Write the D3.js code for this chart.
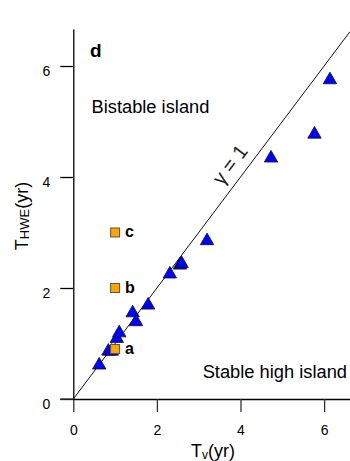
<!DOCTYPE html>
<html>
<head>
<meta charset="utf-8">
<script src="https://cdn.jsdelivr.net/npm/d3@7"></script>
<style>
  body { margin: 0; background: #fff; }
  svg { display: block; }
  text { font-family: "Liberation Sans", Arial, sans-serif; }
</style>
</head>
<body>
<div id="chart"></div>
<script>
// Data: triangles (model runs) and squares (islands a, b, c)
const tvTri   = [0.62, 0.84, 0.92, 1.04, 1.10, 1.42, 1.50, 1.79, 2.31, 2.55, 2.59, 3.20, 4.73, 5.77, 6.14]
const thweTri = [0.61, 0.86, 0.86, 1.09, 1.19, 1.55, 1.39, 1.69, 2.25, 2.41, 2.44, 2.85, 4.34, 4.77, 5.75]
const tvSq    = [1, 1, 1]
const thweSq  = [0.9, 2, 3]
const sqLabels = ['a', 'b', 'c']
const xTicks = [0, 2, 4, 6]
const yTicks = [0, 2, 4, 6]

// Dimensions
let dimensions = {
  width: 350,
  height: 461,
  margin: { top: 29, bottom: 62, left: 73.3, right: 0 }
}

const svg = d3.select('#chart')
  .append('svg')
  .attr('width', dimensions.width)
  .attr('height', dimensions.height)

const containerWidth = dimensions.width - dimensions.margin.left - dimensions.margin.right
const containerHeight = dimensions.height - dimensions.margin.top - dimensions.margin.bottom

const container = svg.append('g')
  .attr('transform', `translate(${dimensions.margin.left},${dimensions.margin.top})`)

// Scales
const xScale = d3.scaleLinear()
  .domain([0, containerWidth / 41.8])
  .range([0, containerWidth])

const yScale = d3.scaleLinear()
  .domain([0, containerHeight / 55.5])
  .range([containerHeight, 0])

// Axes
const xAxisGroup = container.append('g')
  .attr('transform', `translate(0,${containerHeight})`)
  .call(d3.axisBottom(xScale).tickValues(xTicks).tickFormat(d3.format('d'))
    .tickSize(13).tickSizeOuter(0).tickPadding(13))
xAxisGroup.select('.domain').attr('stroke-width', 1.3)
xAxisGroup.selectAll('.tick line').attr('stroke-width', 1.3).attr('stroke', '#333')
xAxisGroup.selectAll('text').attr('font-size', '14px').attr('font-family', 'Liberation Sans, Arial, sans-serif')

const yAxisGroup = container.append('g')
  .call(d3.axisLeft(yScale).tickValues(yTicks).tickFormat(d3.format('d'))
    .tickSize(13).tickSizeOuter(0).tickPadding(10))
yAxisGroup.select('.domain').attr('stroke-width', 1.3)
yAxisGroup.selectAll('.tick line').attr('stroke-width', 1.3)
yAxisGroup.selectAll('text')
  .attr('font-size', '14px')
  .attr('font-family', 'Liberation Sans, Arial, sans-serif')
  .attr('dy', '0.7em')

// x axis extends back to the y tick end
container.append('line')
  .attr('x1', -13).attr('x2', 0)
  .attr('y1', containerHeight).attr('y2', containerHeight)
  .attr('stroke', '#333').attr('stroke-width', 1.3)

// Axis titles
const xTitle = svg.append('text')
  .attr('x', 213)
  .attr('y', 456.5)
  .attr('text-anchor', 'middle')
  .attr('font-size', '18px')
xTitle.append('tspan').text('T')
xTitle.append('tspan').attr('font-size', '12px').attr('dy', 2).text('v')
xTitle.append('tspan').attr('dy', -2).text('(yr)')

const yTitle = svg.append('text')
  .attr('transform', 'translate(28,216) rotate(-90)')
  .attr('text-anchor', 'middle')
  .attr('font-size', '18px')
yTitle.append('tspan').text('T')
yTitle.append('tspan').attr('font-size', '13px').attr('dy', 1).text('HWE')
yTitle.append('tspan').attr('dy', -1).text('(yr)')

// clip for the 1:1 line
svg.append('clipPath').attr('id', 'plotclip')
  .append('rect').attr('width', containerWidth).attr('height', containerHeight)

// gamma = 1 line
const maxV = xScale.domain()[1]
container.append('line')
  .attr('clip-path', 'url(#plotclip)')
  .attr('x1', xScale(0)).attr('y1', yScale(0))
  .attr('x2', xScale(maxV)).attr('y2', yScale(maxV))
  .attr('stroke', '#111')
  .attr('stroke-width', 1)

const ang = Math.atan2(yScale(0) - yScale(1), xScale(1) - xScale(0)) * 180 / Math.PI
container.append('text')
  .attr('transform', `translate(${xScale(4.05)},${yScale(4.05)}) rotate(${-ang})`)
  .attr('y', -9)
  .attr('text-anchor', 'middle')
  .attr('font-family', 'Liberation Serif, DejaVu Serif, serif')
  .attr('font-size', '20px')
  .attr('fill', '#222')
  .text('\u03B3 = 1')

// Triangles
const triData = tvTri.map((d, i) => ({ x: d, y: thweTri[i] }))
container.selectAll('.tri')
  .data(triData)
  .join('path')
  .attr('class', 'tri')
  .attr('d', d3.symbol(d3.symbolTriangle, 78))
  .attr('transform', d => `translate(${xScale(d.x)},${yScale(d.y)})`)
  .attr('fill', '#0000ff')
  .attr('stroke', '#111')
  .attr('stroke-width', 0.8)

// Squares
const sqData = tvSq.map((d, i) => ({ x: d, y: thweSq[i], label: sqLabels[i] }))
container.selectAll('.sq')
  .data(sqData)
  .join('rect')
  .attr('class', 'sq')
  .attr('x', d => xScale(d.x) - 4.5)
  .attr('y', d => yScale(d.y) - 4.5)
  .attr('width', 9)
  .attr('height', 9)
  .attr('fill', '#ffa500')
  .attr('stroke', '#555')
  .attr('stroke-width', 1)

container.selectAll('.sqlab')
  .data(sqData)
  .join('text')
  .attr('class', 'sqlab')
  .attr('x', d => xScale(d.x) + 10)
  .attr('y', d => yScale(d.y) + 4.5)
  .attr('font-size', '16px')
  .attr('font-weight', 'bold')
  .text(d => d.label)

// Annotations
svg.append('text')
  .attr('x', 90).attr('y', 56.5)
  .attr('font-size', '19px')
  .attr('font-weight', 'bold')
  .text('d')

svg.append('text')
  .attr('x', 91.5).attr('y', 113)
  .attr('font-size', '18.3px')
  .text('Bistable island')

svg.append('text')
  .attr('x', 347).attr('y', 378)
  .attr('text-anchor', 'end')
  .attr('font-size', '18.3px')
  .text('Stable high island')
</script>
</body>
</html>
